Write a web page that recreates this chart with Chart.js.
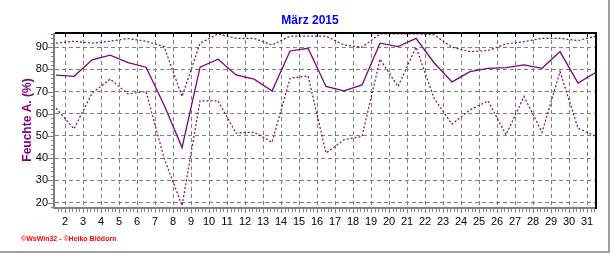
<!DOCTYPE html>
<html>
<head>
<meta charset="utf-8">
<script src="https://cdn.jsdelivr.net/npm/chart.js@4/dist/chart.umd.min.js"></script>
<style>
  html, body { margin: 0; padding: 0; background: #ffffff; }
  #wrap { position: relative; width: 616px; height: 253px; overflow: hidden; }
  #footer { position: absolute; left: 21px; top: 234px; font: bold 7px "Liberation Sans", Arial, sans-serif; color: #ff0000; white-space: nowrap; line-height: 9px; }
</style>
</head>
<body>
<div id="wrap">
  <canvas id="c" width="616" height="253"></canvas>
  <div id="footer">©WsWin32 - ©Heiko Blödorn</div>
</div>
<script>
// ---- data ----
const chartTitle = 'März 2015';
const yAxisTitle = 'Feuchte A. (%)';
const days = [1,2,3,4,5,6,7,8,9,10,11,12,13,14,15,16,17,18,19,20,21,22,23,24,25,26,27,28,29,30,31];
const xTickDays = [2,3,4,5,6,7,8,9,10,11,12,13,14,15,16,17,18,19,20,21,22,23,24,25,26,27,28,29,30,31];
const yTickValues = [20,30,40,50,60,70,80,90];
const humMax  = [91.8,92.7,91.8,92.7,93.9,92.7,90.3,67.8,91.8,96.0,94.0,94.0,91.0,95.0,95.0,95.0,91.0,90.0,96.0,96.0,96.0,95.6,90.0,88.0,88.5,91.5,92.5,94.0,94.0,93.0,95.0];
const humMean = [77.4,76.9,84.3,86.4,83.1,81.0,64.0,44.8,81.0,84.6,77.5,75.6,70.3,88.3,89.5,72.3,70.3,73.0,91.8,90.3,94.0,83.0,74.4,79.0,80.5,80.8,82.0,80.5,88.0,73.8,78.7];
const humMin  = [62.5,53.2,69.3,75.6,69.0,70.0,40.0,18.6,65.8,65.8,51.3,51.7,47.2,76.0,77.1,42.3,48.3,49.8,84.6,72.3,90.0,67.0,55.3,61.8,65.8,50.5,67.8,51.6,79.0,53.5,49.8];

const purple = '#800080';
const pts = arr => days.map((d, i) => ({ x: d + 0.5, y: arr[i] }));

const deco = {
  id: 'deco',
  afterDatasetsDraw(chart) {
    const { ctx, chartArea: a, scales } = chart;
    const xs = scales.x, ys = scales.y;
    ctx.save();
    ctx.strokeStyle = '#808080';
    ctx.lineWidth = 1;
    ctx.beginPath();
    for (let k = Math.ceil(xs.min * 5); k <= Math.floor(xs.max * 5); k++) {
      const v = k / 5;
      const px = Math.round(xs.getPixelForValue(v)) + 0.5;
      const len = (k % 5 === 0) ? 4 : 3;
      ctx.moveTo(px, a.bottom + 2);
      ctx.lineTo(px, a.bottom + 2 + len);
    }
    for (let v = Math.ceil(ys.min / 2) * 2; v <= ys.max; v += 2) {
      const py = Math.round(ys.getPixelForValue(v)) + 0.5;
      const len = (v % 10 === 0) ? 5 : 2;
      ctx.moveTo(a.left - 2, py);
      ctx.lineTo(a.left - 2 - len, py);
    }
    ctx.stroke();
    ctx.fillStyle = '#808080';
    ctx.fillRect(a.left - 2, a.top, 2, a.bottom - a.top + 2);
    ctx.fillRect(a.left - 2, a.bottom, a.right - a.left + 2, 2);
    ctx.fillStyle = '#000000';
    ctx.fillRect(a.left, a.top - 1, a.right - a.left + 1, 2);
    ctx.fillRect(a.right - 1, a.top - 1, 2, a.bottom - a.top + 3);
    ctx.strokeStyle = '#000000';
    ctx.beginPath();
    xTickDays.forEach(d => {
      const px = Math.round(xs.getPixelForValue(d)) + 0.5;
      ctx.moveTo(px, a.top + 1);
      ctx.lineTo(px, a.top + 4);
    });
    ctx.stroke();
    ctx.fillStyle = '#a0a0a0';
    ctx.fillRect(0, 251, 610, 2);
    ctx.fillRect(608, 0, 2, 253);
    ctx.restore();
  }
};

new Chart(document.getElementById('c'), {
  type: 'line',
  data: {
    datasets: [
      { label: 'max', data: pts(humMax), borderColor: purple, borderWidth: 1.2, borderDash: [2, 2], pointRadius: 0, tension: 0, fill: false },
      { label: 'mittel', data: pts(humMean), borderColor: purple, borderWidth: 1.3, pointRadius: 0, tension: 0, fill: false },
      { label: 'min', data: pts(humMin), borderColor: purple, borderWidth: 1.2, borderDash: [2, 2], pointRadius: 0, tension: 0, fill: false }
    ]
  },
  options: {
    responsive: false,
    animation: false,
    devicePixelRatio: 1,
    layout: { padding: { left: 4, right: 0, top: 0, bottom: 0 } },
    plugins: {
      legend: { display: false },
      tooltip: { enabled: false },
      title: {
        display: true, text: chartTitle, color: '#0000ff',
        font: { family: '"Liberation Sans", Arial, sans-serif', size: 12, weight: 'bold' },
        padding: { top: 13, bottom: 5.6 }
      }
    },
    scales: {
      x: {
        type: 'linear', position: 'bottom', min: 1.44, max: 31.5,
        afterBuildTicks: s => { s.ticks = xTickDays.map(v => ({ value: v })); },
        afterFit: s => { s.height = 46; },
        ticks: { color: '#000000', padding: 8, maxRotation: 0, autoSkip: false,
          font: { family: '"Liberation Sans", Arial, sans-serif', size: 11 },
          callback: v => String(v) },
        grid: { color: '#808080', lineWidth: 1, drawTicks: false },
        border: { display: false, dash: [4, 3] }
      },
      y: {
        type: 'linear', position: 'left', min: 18, max: 96.4,
        afterBuildTicks: s => { s.ticks = yTickValues.map(v => ({ value: v })); },
        afterFit: s => { s.width = 51; },
        ticks: { color: '#000000', padding: 7,
          font: { family: '"Liberation Sans", Arial, sans-serif', size: 11 },
          callback: v => String(v) },
        grid: { color: '#808080', lineWidth: 1, drawTicks: false },
        border: { display: false, dash: [4, 3] },
        title: { display: true, text: yAxisTitle, color: purple,
          font: { family: '"Liberation Sans", Arial, sans-serif', size: 12, weight: 'bold' },
          padding: { top: 16, bottom: 0 } }
      },
      yr: {
        type: 'linear', position: 'right', min: 18, max: 96.4,
        afterFit: s => { s.width = 20; },
        ticks: { display: false },
        grid: { display: false, drawTicks: false },
        border: { display: false }
      }
    }
  },
  plugins: [deco]
});
</script>
</body>
</html>
